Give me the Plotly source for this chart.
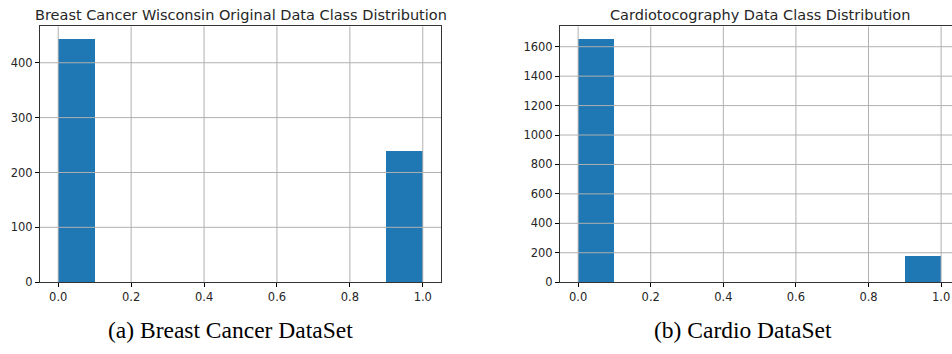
import plotly.graph_objects as go

# ---- data ----
bin_edges = [0.0, 0.1, 0.2, 0.3, 0.4, 0.5, 0.6, 0.7, 0.8, 0.9, 1.0]
breast_counts = [444, 0, 0, 0, 0, 0, 0, 0, 0, 239]
cardio_counts = [1655, 0, 0, 0, 0, 0, 0, 0, 0, 176]
x_ticks = [0.0, 0.2, 0.4, 0.6, 0.8, 1.0]
x_ticklabels = ["0.0", "0.2", "0.4", "0.6", "0.8", "1.0"]
breast_yticks = [0, 100, 200, 300, 400]
cardio_yticks = [0, 200, 400, 600, 800, 1000, 1200, 1400, 1600]
titles = ["Breast Cancer Wisconsin Original Data Class Distribution",
          "Cardiotocography Data Class Distribution"]
captions = ["(a) Breast Cancer DataSet", "(b) Cardio DataSet"]

W, H = 952, 346
centers = [(bin_edges[i] + bin_edges[i + 1]) / 2 for i in range(len(bin_edges) - 1)]
widths = [bin_edges[i + 1] - bin_edges[i] for i in range(len(bin_edges) - 1)]

BLUE = "#1f77b4"
GRID = "#b0b0b0"
TXT = "#262626"

fig = go.Figure()
fig.add_trace(go.Bar(x=centers, y=breast_counts, width=widths, marker=dict(color=BLUE, line=dict(width=0)),
                     xaxis="x", yaxis="y", showlegend=False, hoverinfo="skip"))
fig.add_trace(go.Bar(x=centers, y=cardio_counts, width=widths, marker=dict(color=BLUE, line=dict(width=0)),
                     xaxis="x2", yaxis="y2", showlegend=False, hoverinfo="skip"))

ydom = [(H - 288) / H, (H - 27) / H]
dom1 = [40 / W, 441 / W]
dom2 = [560 / W, 1.0]

tickfont = dict(family="DejaVu Sans", size=11.5, color=TXT)
common_x = dict(tickmode="array", tickvals=x_ticks, ticktext=x_ticklabels, showgrid=False, zeroline=False,
                ticks="outside", ticklen=4, tickwidth=1, tickcolor="#000", tickfont=tickfont,
                showline=True, linecolor="#333", linewidth=1, fixedrange=True)
common_y = dict(showgrid=False, zeroline=False, ticks="outside", ticklen=4, tickwidth=1, tickcolor="#000",
                tickfont=tickfont, showline=True, linecolor="#333", linewidth=1, fixedrange=True)

fig.update_layout(
    width=W, height=H, autosize=False,
    margin=dict(l=0, r=0, t=0, b=0),
    paper_bgcolor="white", plot_bgcolor="white",
    bargap=0,
    xaxis=dict(domain=dom1, range=[-0.05, 1.05], anchor="y", mirror=True, **common_x),
    yaxis=dict(domain=ydom, range=[0, max(breast_counts) * 1.05], anchor="x", mirror=True,
               tickmode="array", tickvals=breast_yticks, **common_y),
    xaxis2=dict(domain=dom2, range=[-0.05, 1.03], anchor="y2", mirror=True, **common_x),
    yaxis2=dict(domain=ydom, range=[0, max(cardio_counts) * 1.05], anchor="x2", mirror=False,
                tickmode="array", tickvals=cardio_yticks, **common_y),
)

shapes = []
for xr, yr, yt in [("x", "y", breast_yticks), ("x2", "y2", cardio_yticks)]:
    for xv in x_ticks:
        shapes.append(dict(type="line", xref=xr, yref=yr + " domain", x0=xv, x1=xv, y0=0, y1=1,
                           line=dict(color=GRID, width=1), layer="above"))
    for yv in yt[1:]:
        shapes.append(dict(type="line", xref=xr + " domain", yref=yr, x0=0, x1=1, y0=yv, y1=yv,
                           line=dict(color=GRID, width=1), layer="above"))
fig.update_layout(shapes=shapes)

annotations = []
for dom, t in zip([dom1, [560 / W, 960 / W]], titles):
    annotations.append(dict(text=t, xref="paper", yref="paper", x=(dom[0] + dom[1]) / 2, y=(H - 15) / H,
                            xanchor="center", yanchor="middle", showarrow=False,
                            font=dict(family="DejaVu Sans", size=14.5, color=TXT)))
for xc, c in zip([230 / W, 743 / W], captions):
    annotations.append(dict(text=c, xref="paper", yref="paper", x=xc, y=(H - 337) / H,
                            xanchor="center", yanchor="middle", showarrow=False,
                            font=dict(family="Liberation Serif", size=23.5, color="#000")))
fig.update_layout(annotations=annotations)

post = (
    "var s=document.createElement('style');"
    "s.textContent='html,body{margin:0!important;padding:0!important;"
    "overflow:hidden!important;}';"
    "document.head.appendChild(s);"
)
fig.write_html("out.html", config={"displayModeBar": False, "staticPlot": True}, post_script=post)
